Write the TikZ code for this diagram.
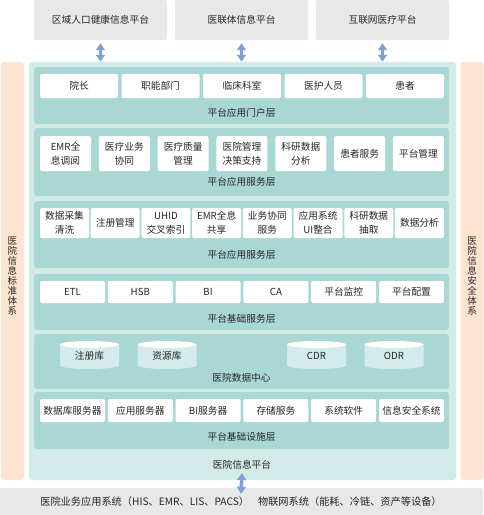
\documentclass[tikz,border=0pt]{standalone}
\usepackage{fontspec}
\setmainfont{Noto Sans CJK SC}
\usetikzlibrary{arrows.meta, positioning}

\definecolor{txtgray}{HTML}{262626}
\definecolor{topgray}{HTML}{E8E8E8}
\definecolor{panelteal}{HTML}{D3EBE8}
\definecolor{layerteal}{HTML}{A9D7D3}
\definecolor{peach}{HTML}{FDE3D0}
\definecolor{linkblue}{HTML}{7FA2D6}
\definecolor{dbbody}{HTML}{D3EBEA}

\tikzset{
  topbox/.style={fill=topgray, rounded corners=2pt, minimum width=133, minimum height=40, inner sep=0pt},
  panel/.style={fill=panelteal, rounded corners=3pt, minimum width=427, minimum height=418, inner sep=0pt},
  sidebar/.style={fill=peach, rounded corners=3pt, minimum width=23, minimum height=418, inner sep=0pt},
  layer/.style={fill=layerteal, rounded corners=3pt, minimum width=415, inner sep=0pt},
  item/.style={fill=white, rounded corners=2pt, inner sep=0pt, align=center},
  vtext/.style={align=center, font=\fontsize{9.5}{10}\selectfont},
  basebar/.style={fill=topgray, rounded corners=2pt, minimum width=484, minimum height=27, inner sep=0pt, font=\fontsize{10.2}{14}\selectfont},
  link/.style={linkblue, line width=3.5pt, {Triangle[width=9pt, length=7pt]}-{Triangle[width=9pt, length=7pt]}}
}

\begin{document}
\begin{tikzpicture}[x=1pt, y=-1pt, every node/.style={font=\fontsize{9.7}{14}\selectfont, text=txtgray}]
\useasboundingbox (0,0) rectangle (484,515);

% Top platforms
\foreach \i/\cx/\txt in {1/100.5/区域人口健康信息平台, 2/241.5/医联体信息平台, 3/382.5/互联网医疗平台}
  \node[topbox] (top\i) at (\cx,20) {\txt};

% Hospital platform and side systems
\node[panel] (panel) at (242.5,271) {};
\node[sidebar] (stdbar) at (12.5,271) {};
\node[sidebar] (secbar) at (472,271) {};
\node[vtext] (stdtxt) at (12.5,276) {医\\院\\信\\息\\标\\准\\体\\系};
\node[vtext] (sectxt) at (472,276) {医\\院\\信\\息\\安\\全\\体\\系};

\foreach \i in {1,2,3}
  \draw[link, shorten <=3pt] (top\i.south) -- (top\i.south |- panel.north);

% Layers
\foreach \n/\cy/\h/\ly/\txt in {L1/95.5/57/113/平台应用门户层, L2/162/68/182/平台应用服务层,
    L3/234.5/67/255/平台应用服务层, L4/302/56/319/平台基础服务层,
    L5/361.5/55/378/医院数据中心, L6/420.5/57/437/平台基础设施层}
{
  \node[layer, minimum height=\h] (\n) at (241.5,\cy) {};
  \node (\n lbl) at (241.5,\ly) {\txt};
}

% Portal layer
\foreach \txt [count=\k] in {院长, 职能部门, 临床科室, 医护人员, 患者}
  \node[item, minimum width=78, minimum height=24] (p\k) at ({79+(\k-1)*81.5},86) {\txt};

% Application service layer
\foreach \txt [count=\k] in {{EMR全\\息调阅}, {医疗业务\\协同}, {医疗质量\\管理}, {医院管理\\决策支持}, {科研数据\\分析}, 患者服务, 平台管理}
  \node[item, minimum width=51, minimum height=35] (s\k) at ({65.5+(\k-1)*58.83},153.5) {\txt};

\foreach \txt [count=\k] in {{数据采集\\清洗}, 注册管理, {UHID\\交叉索引}, {EMR全息\\共享}, {业务协同\\服务}, {应用系统\\UI整合}, {科研数据\\抽取}, 数据分析}
  \node[item, minimum width=49, minimum height=30] (a\k) at ({64.5+(\k-1)*50.71},223) {\txt};

% Base service layer
\foreach \txt [count=\k] in {ETL, HSB, BI, CA, 平台监控, 平台配置}
  \node[item, minimum width=65, minimum height=22] (b\k) at ({72.5+(\k-1)*67.8},292) {\txt};

% Data center
\foreach \cx/\txt [count=\k] in {89.5/注册库, 167/资源库, 316.5/CDR, 394/ODR}
{
  \fill[dbbody] (\cx-29.5,344.5) -- (\cx-29.5,365.5)
    arc[start angle=180, end angle=360, x radius=29.5pt, y radius=3.5pt]
    -- (\cx+29.5,344.5) -- cycle;
  \fill[white] (\cx,344.5) ellipse (29.5pt and 3.5pt);
  \node (d\k) at (\cx,356) {\txt};
}

% Infrastructure layer
\foreach \txt [count=\k] in {数据库服务器, 应用服务器, BI服务器, 存储服务, 系统软件, 信息安全系统}
  \node[item, minimum width=65, minimum height=23] (f\k) at ({72.5+(\k-1)*67.8},410.5) {\txt};

\node (plat) at (242,465) {医院信息平台};

% Business systems
\node[basebar] (base) at (241,501.5) {医院业务应用系统（HIS、EMR、LIS、PACS）\hspace{9pt}物联网系统（能耗、冷链、资产等设备）};
\draw[link] (plat.south) -- ([yshift=-6pt]base.north);

\end{tikzpicture}
\end{document}
